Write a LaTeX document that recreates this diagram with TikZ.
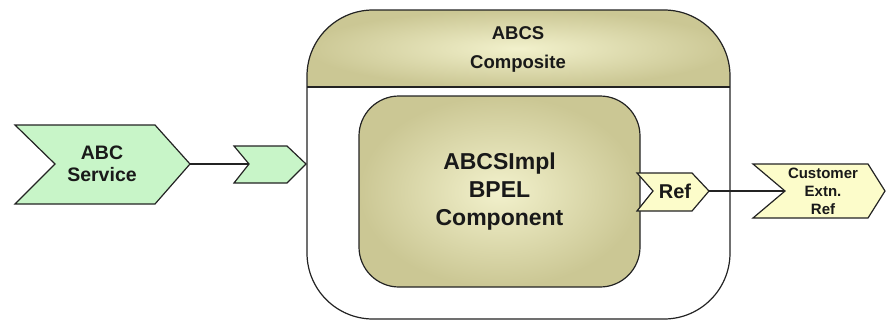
\documentclass[tikz,border=0pt]{standalone}
\usepackage{fontspec}
\setmainfont{Liberation Sans}
\usetikzlibrary{calc}
\definecolor{svcgreen}{RGB}{200,245,200}
\definecolor{refyellow}{RGB}{252,252,202}
\definecolor{khaki}{RGB}{203,199,148}
\definecolor{khakilight}{RGB}{242,241,204}
\definecolor{edge}{RGB}{35,35,35}
\definecolor{ink}{RGB}{25,25,25}

\begin{document}
\begin{tikzpicture}[x=1pt, y=-1pt, line width=1.2pt,
    lbl/.style={align=center, text=ink, inner sep=0pt},
    port/.style={draw=edge, line join=miter}]
  \useasboundingbox (0,0) rectangle (886,322);
  % composite: header band, outline, divider
  \begin{scope}
    \clip[rounded corners=66pt] (307,10) rectangle (730,319);
    \shade[inner color=khakilight, outer color=khaki] (307,10) rectangle (730,87);
  \end{scope}
  \draw[edge, rounded corners=66pt] (307,10) rectangle (730,319);
  \draw[edge] (307,87) -- (730,87);
  \node[lbl, font=\bfseries\fontsize{18.5}{29}\selectfont] (compTitle) at (518,49) {ABCS\\Composite};
  % inner BPEL component
  \node[draw=edge, rounded corners=40pt, minimum width=281pt, minimum height=191pt,
        inner color=khakilight, outer color=khaki, text=ink, align=center,
        font=\bfseries\fontsize{23}{28}\selectfont] (impl) at (499.5,191.5) {ABCSImpl\\BPEL\\Component};
  % ABC service (left)
  \coordinate (svcNotch) at (55,164);
  \coordinate (svcTip) at (190,164);
  \draw[port, fill=svcgreen] (15,125) -- (155,125) -- (svcTip) -- (155,204) -- (15,204) -- (svcNotch) -- cycle;
  \node[lbl, font=\bfseries\fontsize{19.5}{22}\selectfont] (svcText) at (102,164) {ABC\\Service};
  % service port on the composite
  \coordinate (inNotch) at (249,164);
  \coordinate (inTip) at (306,164);
  \draw[port, fill=svcgreen] (234,146) -- (287,146) -- (inTip) -- (287,183) -- (234,183) -- (inNotch) -- cycle;
  % reference port
  \coordinate (refNotch) at (653,191);
  \coordinate (refTip) at (709,191);
  \draw[port, fill=refyellow] (637,173) -- (692,173) -- (refTip) -- (692,211) -- (637,211) -- (refNotch) -- cycle;
  \node[lbl, font=\bfseries\fontsize{20}{22}\selectfont] (refText) at (675,191) {Ref};
  % external reference (right)
  \coordinate (custNotch) at (785,191);
  \coordinate (custTip) at (885,191);
  \draw[port, fill=refyellow] (753,164) -- (868,164) -- (custTip) -- (868,218) -- (753,218) -- (custNotch) -- cycle;
  \node[lbl, font=\bfseries\fontsize{15}{18}\selectfont] (custText) at (823,191) {Customer\\Extn.\\Ref};
  % wires
  \draw[edge] (svcTip) -- (inNotch);
  \draw[edge] (refTip) -- (custNotch);
\end{tikzpicture}
\end{document}
